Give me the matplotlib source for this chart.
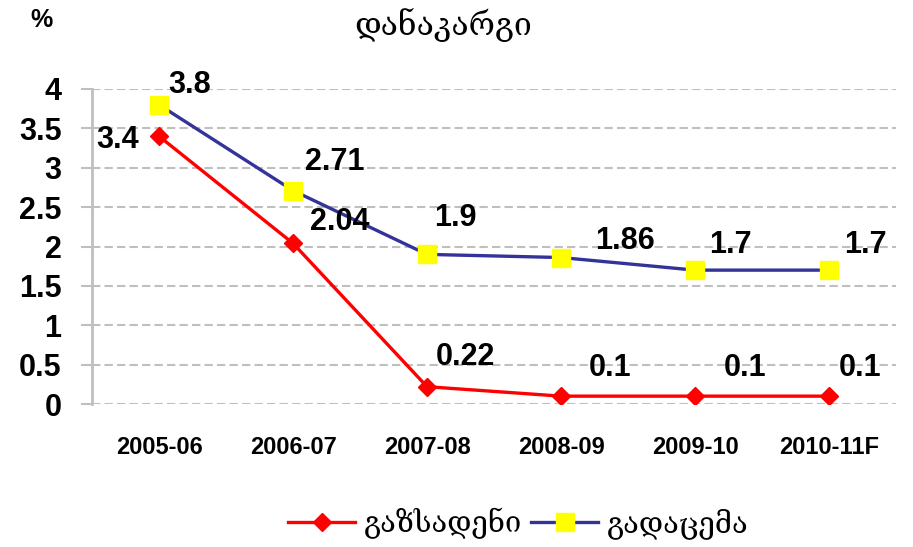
import matplotlib
matplotlib.use("Agg")
import matplotlib.pyplot as plt

# données
periodes = ["2005-06", "2006-07", "2007-08", "2008-09", "2009-10", "2010-11F"]
gazoduc = [3.4, 2.04, 0.22, 0.1, 0.1, 0.1]
transport = [3.8, 2.71, 1.9, 1.86, 1.7, 1.7]
etiquettes_gazoduc = ["3.4", "2.04", "0.22", "0.1", "0.1", "0.1"]
etiquettes_transport = ["3.8", "2.71", "1.9", "1.86", "1.7", "1.7"]
nom_gazoduc = "გაზსადენი"
nom_transport = "გადაცემა"
titre = "დანაკარგი"

# décalages des étiquettes (pixels)
decal_gazoduc = [(-41, -4), (47, 21), (38, 30), (49, 28), (50, 28), (31, 28)]
decal_transport = [(31, 20), (42, 29), (28, 36), (64, 17), (35, 25), (36, 25)]

police_geo = ["DejaVu Serif", "DejaVu Sans"]
police_num = ["Liberation Sans", "DejaVu Sans"]

fig = plt.figure(figsize=(9.13, 5.47), dpi=100)
ax = fig.add_axes([0.1008, 0.2614, 0.8806, 0.5759])

x = list(range(len(periodes)))
ax.plot(x, gazoduc, color="#FF0000", lw=2.4, marker="D", markersize=9,
        markerfacecolor="#FF0000", markeredgecolor="#FF0000", label=nom_gazoduc, zorder=3)
ax.plot(x, transport, color="#333399", lw=2.4, marker="s", markersize=13,
        markerfacecolor="#FFFF00", markeredgecolor="#FFFF00", label=nom_transport, zorder=3)

for xi, yi, txt, d in zip(x, gazoduc, etiquettes_gazoduc, decal_gazoduc):
    ax.annotate(txt, (xi, yi), xytext=d, textcoords="offset pixels", ha="center", va="center",
                fontsize=22, fontweight="bold", family=police_num)
for xi, yi, txt, d in zip(x, transport, etiquettes_transport, decal_transport):
    ax.annotate(txt, (xi, yi), xytext=d, textcoords="offset pixels", ha="center", va="center",
                fontsize=22, fontweight="bold", family=police_num)

ax.set_xlim(-0.5, len(periodes) - 0.5)
ax.set_ylim(0, 4)
ax.set_yticks([0, 0.5, 1, 1.5, 2, 2.5, 3, 3.5, 4])
ax.set_yticklabels(["0", "0.5", "1", "1.5", "2", "2.5", "3", "3.5", "4"],
                   fontsize=22, fontweight="bold", family=police_num)
ax.set_xticks(x)
ax.set_xticklabels(periodes, fontsize=17, fontweight="bold", family=police_num)
ax.tick_params(axis="y", length=8, width=1.5, color="#BFBFBF", pad=14)
ax.tick_params(axis="x", length=0, pad=23)

ax.grid(axis="y", color="#BFBFBF", linestyle=(0, (4, 2)), lw=1.5)
ax.set_axisbelow(True)
for cote in ["top", "right", "bottom"]:
    ax.spines[cote].set_visible(False)
ax.spines["left"].set_color("#BFBFBF")
ax.spines["left"].set_linewidth(2)

fig.text(0.046, 0.963, "%", fontsize=18, fontweight="bold", family=police_num, ha="center", va="center")
fig.text(0.485, 0.955, titre, fontsize=23, family=police_geo, ha="center", va="center")

fig.legend(loc="center", bbox_to_anchor=(0.568, 0.043), ncol=2, frameon=False,
           prop={"family": police_geo, "size": 21}, handlelength=2.3, columnspacing=0.3,
           handletextpad=0.3)

fig.savefig("out.png", dpi=100)
